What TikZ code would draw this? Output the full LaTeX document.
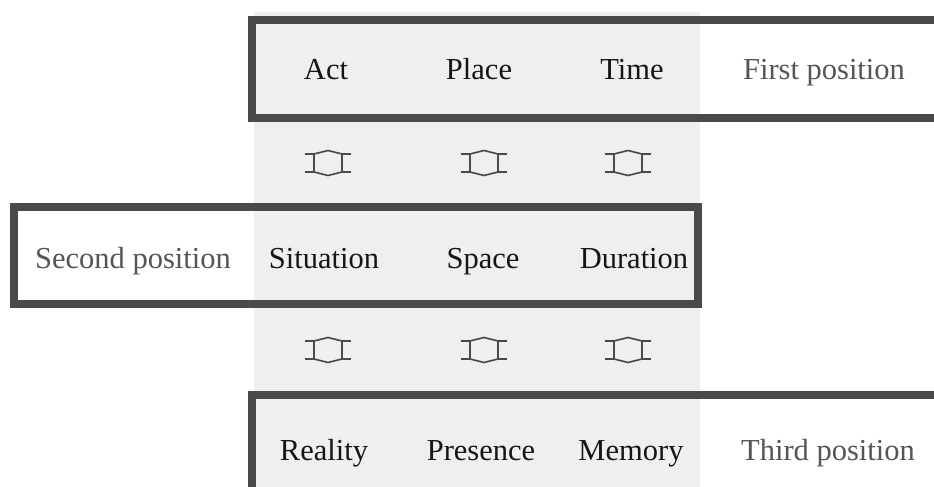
\documentclass[tikz,border=0pt]{standalone}
\usepackage{fontspec}
\setmainfont{Liberation Serif}
\definecolor{frame}{HTML}{4A4A4A}
\definecolor{bgshade}{HTML}{EFEFEF}
\definecolor{labelgray}{HTML}{555555}
\definecolor{ink}{HTML}{151515}
\tikzset{
  posbox/.style={draw=frame, line width=8pt},
  word/.style={font=\fontsize{30.5}{36}\selectfont, text=ink, inner sep=0pt, anchor=base},
  poslabel/.style={word, text=labelgray},
  dblarrow/.pic={
    \draw[frame, line width=1.6pt, line join=round]
      (-14,-9) -- (0,-12.5) -- (14,-9)
      (-14,9) -- (0,12.5) -- (14,9)
      (-14,-9) -- (-14,9) (14,-9) -- (14,9);
    \draw[frame, line width=2.6pt]
      (-23,-9) -- (-14,-9) (14,-9) -- (23,-9)
      (-23,9) -- (-14,9) (14,9) -- (23,9);
  }
}
\begin{document}
\begin{tikzpicture}[x=1pt,y=-1pt]
\useasboundingbox (0,0) rectangle (934,487);
\fill[white] (0,0) rectangle (934,487);
\fill[bgshade] (254,12) rectangle (700,487);
% boxes
\draw[posbox] (252,20) rectangle (945,118);
\draw[posbox] (14,207) rectangle (698,304);
\draw[posbox] (252,395) rectangle (945,500);
% row 1
\node[word] (act) at (326,80) {Act};
\node[word] (place) at (479,80) {Place};
\node[word] (time) at (632,80) {Time};
\node[poslabel] (first) at (824,80) {First position};
% row 2
\node[poslabel] (second) at (133,268) {Second position};
\node[word] (situation) at (324,268) {Situation};
\node[word] (space) at (483,268) {Space};
\node[word] (duration) at (634,268) {Duration};
% row 3
\node[word] (reality) at (324,460) {Reality};
\node[word] (presence) at (481,460) {Presence};
\node[word] (memory) at (631,460) {Memory};
\node[poslabel] (third) at (828,460) {Third position};
% arrows
\pic at (328,163) {dblarrow};
\pic at (484,163) {dblarrow};
\pic at (628,163) {dblarrow};
\pic at (328,350) {dblarrow};
\pic at (484,350) {dblarrow};
\pic at (628,350) {dblarrow};
\end{tikzpicture}
\end{document}
